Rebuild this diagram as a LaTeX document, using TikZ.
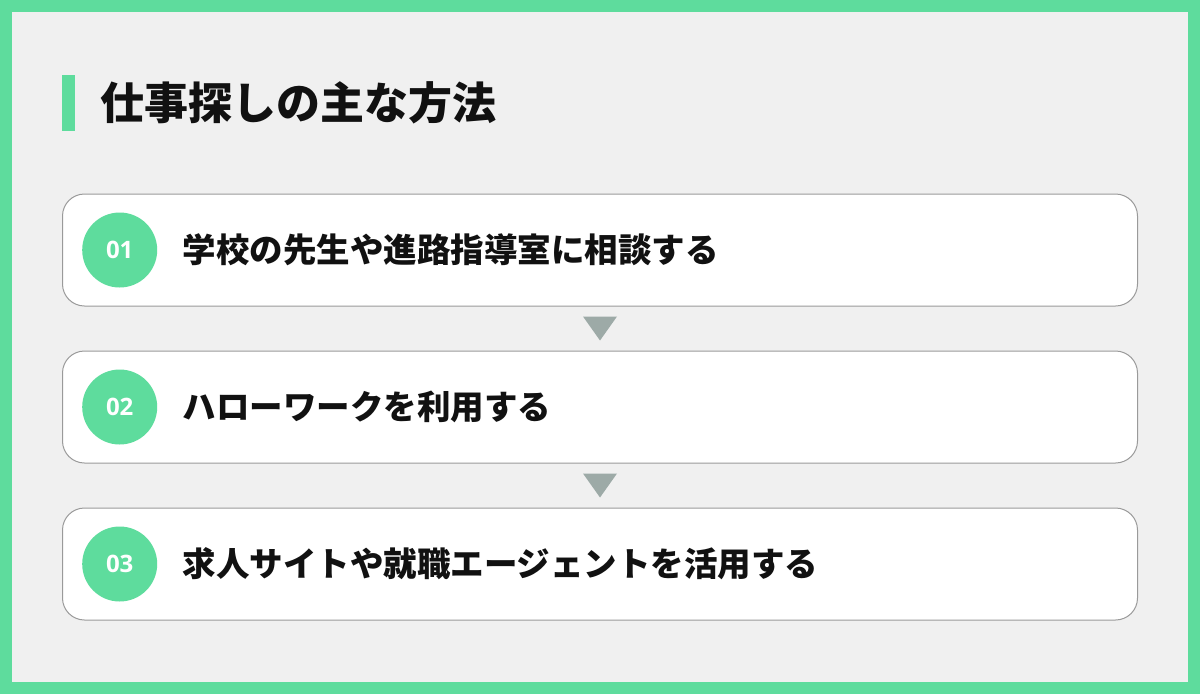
\documentclass[tikz,border=0pt]{standalone}
\usepackage{fontspec}
\setmainfont{Noto Sans CJK JP}
\newfontfamily\numfont{Open Sans}
\usetikzlibrary{positioning,calc}
\definecolor{mint}{HTML}{5EDC9D}
\definecolor{panel}{HTML}{F0F0F0}
\definecolor{rim}{HTML}{9A9A9A}
\definecolor{pointer}{HTML}{9DAAA7}
\definecolor{ink}{HTML}{111111}
\tikzset{
  stepbox/.style={draw=rim, line width=1pt, fill=white, rounded corners=22pt,
    minimum width=1075pt, minimum height=112pt},
  numdot/.style={circle, fill=mint, minimum size=75pt, inner sep=0pt,
    text=white, font=\numfont\bfseries\fontsize{24}{24}\selectfont},
  itemtext/.style={anchor=west, inner sep=0pt, text=ink,
    font=\bfseries\fontsize{33.5}{34}\selectfont},
  pointer/.style={fill=pointer}
}

\begin{document}
\begin{tikzpicture}[x=1pt,y=-1pt]
  % Configurable parameters
  \def\rowgap{44pt}
  \def\tw{17}
  \def\th{12}
  %
  % Frame
  \fill[mint] (0,0) rectangle (1200,694);
  \fill[panel] (12,12) rectangle (1188,682);
  \useasboundingbox (0,0) rectangle (1200,694);
  %
  % Title
  \fill[mint] (62,75) rectangle (75,131);
  \node[anchor=west, inner sep=0pt, text=ink, font=\bfseries\fontsize{44}{44}\selectfont]
    (title) at (100,103) {仕事探しの主な方法};
  %
  % Steps
  \node[stepbox] (box1) at (600,250) {};
  \node[stepbox, below=\rowgap of box1] (box2) {};
  \node[stepbox, below=\rowgap of box2] (box3) {};
  %
  \node[numdot, right=20pt of box1.west] (num1) {01};
  \node[numdot, right=20pt of box2.west] (num2) {02};
  \node[numdot, right=20pt of box3.west] (num3) {03};
  %
  \node[itemtext, right=25pt of num1] (item1) {学校の先生や進路指導室に相談する};
  \node[itemtext, right=25pt of num2] (item2) {ハローワークを利用する};
  \node[itemtext, right=25pt of num3] (item3) {求人サイトや就職エージェントを活用する};
  %
  % Pointers between steps
  \coordinate (mid1) at ($(box1.south)!0.5!(box2.north)$);
  \coordinate (mid2) at ($(box2.south)!0.5!(box3.north)$);
  \fill[pointer] ($(mid1)+(-\tw,-\th)$) -- ($(mid1)+(\tw,-\th)$) -- ($(mid1)+(0,\th)$) -- cycle;
  \fill[pointer] ($(mid2)+(-\tw,-\th)$) -- ($(mid2)+(\tw,-\th)$) -- ($(mid2)+(0,\th)$) -- cycle;
  %
\end{tikzpicture}
\end{document}
